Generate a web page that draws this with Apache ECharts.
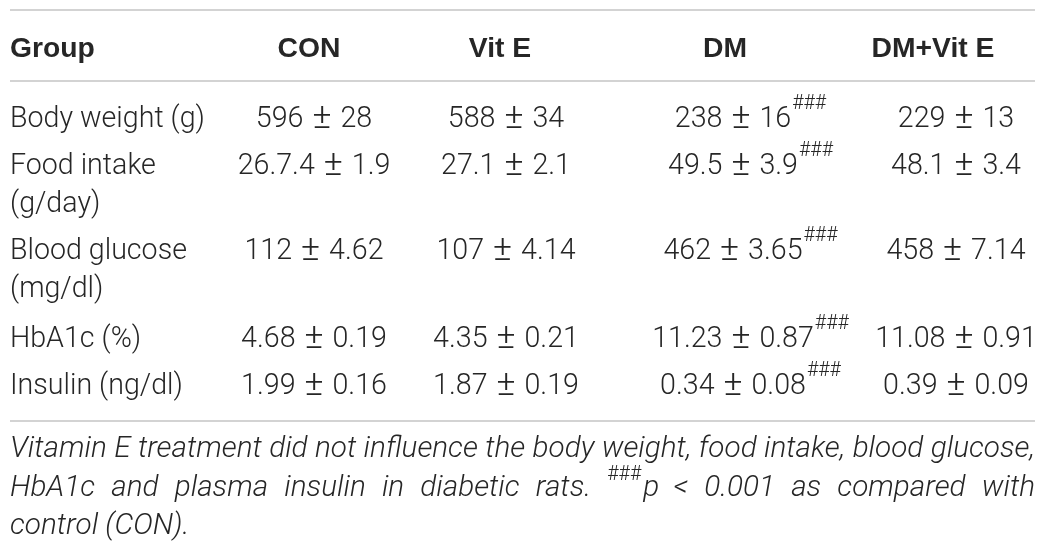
<!DOCTYPE html>
<html>
<head>
<meta charset="utf-8">
<script src="https://cdn.jsdelivr.net/npm/echarts@6/dist/echarts.min.js"></script>
<style>
  html, body { margin: 0; padding: 0; background: #fff; }
  #main { width: 1051px; height: 550px; }
</style>
</head>
<body>
<div id="main"></div>
<script>
// table data
var groups = ['CON', 'Vit E', 'DM', 'DM+Vit E'];
var rowLabels = [
    ['Body weight (g)'],
    ['Food intake', '(g/day)'],
    ['Blood glucose', '(mg/dl)'],
    ['HbA1c (%)'],
    ['Insulin (ng/dl)']
];
var conMean = ['596', '26.7.4', '112', '4.68', '1.99'];
var conSd = ['28', '1.9', '4.62', '0.19', '0.16'];
var vitMean = ['588', '27.1', '107', '4.35', '1.87'];
var vitSd = ['34', '2.1', '4.14', '0.21', '0.19'];
var dmMean = ['238', '49.5', '462', '11.23', '0.34'];
var dmSd = ['16', '3.9', '3.65', '0.87', '0.08'];
var dmvMean = ['229', '48.1', '458', '11.08', '0.39'];
var dmvSd = ['13', '3.4', '7.14', '0.91', '0.09'];
var dmSig = ['###', '###', '###', '###', '###'];
var captionLines = [
    'Vitamin E treatment did not influence the body weight, food intake, blood glucose,',
    'HbA1c and plasma insulin in diabetic rats. ^###p < 0.001 as compared with',
    'control (CON).'
];

var FAM = 'Roboto, "Liberation Sans", sans-serif';
var HFAM = '"Liberation Sans", Arial, sans-serif';
var TXT = '#262626';

var cv = document.createElement('canvas').getContext('2d');
function measure(t, font) { cv.font = font; return cv.measureText(t).width; }
// pick a font size so a sample string has the width seen in the picture
function fit(pre, fam, sample, target) {
    return Math.round(20 * target / measure(sample, pre + ' 20px ' + fam) * 10) / 10;
}
var sBody = fit('300', FAM, 'Body weight (g)', 195);
var sHead = fit('bold', HFAM, 'Group', 85);
var sCap = fit('italic 300', FAM, captionLines[0], 1022);
var sSup = fit('300', FAM, '###', 34);
var sPm = fit('300', FAM, '\u00b1', 19);
var fBody = '300 ' + sBody + 'px ' + FAM;
var fHead = 'bold ' + sHead + 'px ' + HFAM;
var fSup = '300 ' + sSup + 'px ' + FAM;
var fPm = '300 ' + sPm + 'px ' + FAM;
var fCap = 'italic 300 ' + sCap + 'px ' + FAM;

var left = 10, right = 1035;
var headCx = [309, 500, 725, 933];
var cellCx = [314, 506, 733, 956];
var rowBase = [128, 175, 260, 348, 395];
var subGap = 38;
var pmGap = 9;

var els = [];
function text(x, base, t, font, size, align) {
    els.push({
        type: 'text', x: x, y: base + size * 0.22,
        style: { text: t, font: font, fill: TXT, textAlign: align || 'left', textVerticalAlign: 'bottom' }
    });
}
function hline(y) {
    els.push({ type: 'line', shape: { x1: left, y1: y, x2: right, y2: y },
        style: { stroke: '#c4c4c4', lineWidth: 1.3 } });
}

hline(10);
hline(81);
hline(421);

// header
text(left, 57, 'Group', fHead, sHead);
groups.forEach(function (g, i) { text(headCx[i], 57, g, fHead, sHead, 'center'); });

// rows
var cols = [[conMean, conSd, null], [vitMean, vitSd, null], [dmMean, dmSd, dmSig], [dmvMean, dmvSd, null]];
rowLabels.forEach(function (lab, r) {
    lab.forEach(function (l, k) { text(left, rowBase[r] + k * subGap, l, fBody, sBody); });
    cols.forEach(function (c, i) {
        var wm = measure(c[0][r], fBody), wp = measure('\u00b1', fPm), ws = measure(c[1][r], fBody);
        var x = cellCx[i] - (wm + wp + ws + 2 * pmGap) / 2;
        var b = rowBase[r];
        text(x, b, c[0][r], fBody, sBody);
        x += wm + pmGap;
        text(x, b + 1, '\u00b1', fPm, sPm);
        x += wp + pmGap;
        text(x, b, c[1][r], fBody, sBody);
        x += ws;
        if (c[2]) text(x + 1, b - 18, c[2][r], fSup, sSup);
    });
});

// caption, justified
var capBase = [458, 497, 535];
captionLines.forEach(function (line, li) {
    var words = line.split(' ');
    var segs = words.map(function (wd) {
        if (wd.charAt(0) === '^') {
            var sup = wd.replace(/^\^(#+).*/, '$1');
            var rest = wd.slice(sup.length + 1);
            return { sup: sup, t: rest, w: measure(sup, fSup) + measure(rest, fCap) };
        }
        return { t: wd, w: measure(wd, fCap) };
    });
    var total = segs.reduce(function (a, s) { return a + s.w; }, 0);
    var gap = li < captionLines.length - 1 ? (right - left - total) / (segs.length - 1) : measure(' ', fCap);
    var x = left;
    segs.forEach(function (s) {
        if (s.sup) {
            text(x, capBase[li] - 16, s.sup, fSup, sSup);
            text(x + measure(s.sup, fSup) + 2, capBase[li], s.t, fCap, sCap);
        } else {
            text(x, capBase[li], s.t, fCap, sCap);
        }
        x += s.w + gap;
    });
});

var myChart = echarts.init(document.getElementById('main'), null, { renderer: 'canvas' });
myChart.setOption({ animation: false, graphic: { elements: els } });
</script>
</body>
</html>
